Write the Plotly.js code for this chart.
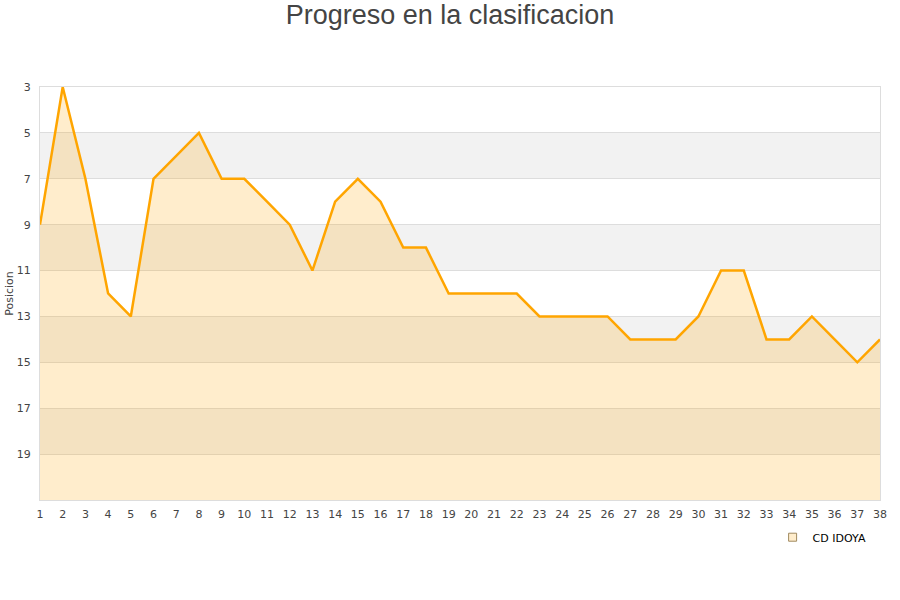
<!DOCTYPE html>
<html>
<head>
<meta charset="utf-8">
<script src="https://cdn.plot.ly/plotly-3.0.1.min.js"></script>
<style>body{margin:0;padding:0;background:#fff}#chart{width:900px;height:600px}</style>
</head>
<body>
<div id="chart"></div>
<script>
const jornadas = [1,2,3,4,5,6,7,8,9,10,11,12,13,14,15,16,17,18,19,20,21,22,23,24,25,26,27,28,29,30,31,32,33,34,35,36,37,38];
const posiciones = [9,3,7,12,13,7,6,5,7,7,8,9,11,8,7,8,10,10,12,12,12,12,13,13,13,13,14,14,14,13,11,11,14,14,13,14,15,14];
const teamName = "CD IDOYA";
const yTicks = [3,5,7,9,11,13,15,17,19];
const yMin = 3, yMax = 21;

const bandShapes = [];
for (let v = yMin; v < yMax; v += 2) {
  const idx = (v - yMin) / 2;
  bandShapes.push({
    type: 'rect', xref: 'paper', yref: 'y', x0: 0, x1: 1, y0: v, y1: v + 2,
    fillcolor: idx % 2 === 1 ? '#F2F2F2' : '#FFFFFF', line: {width: 0}, layer: 'below'
  });
}

const baseline = jornadas.map(() => yMax);

const traces = [
  {x: jornadas, y: baseline, mode: 'lines', line: {width: 0}, hoverinfo: 'skip', showlegend: false},
  {x: jornadas, y: posiciones, mode: 'lines', fill: 'tonexty', fillcolor: 'rgba(255,165,0,0.2)',
   line: {color: '#FFA500', width: 2.5}, name: teamName, showlegend: false},
  {x: [null], y: [null], mode: 'markers', name: teamName,
   marker: {symbol: 'square', size: 8, color: '#FFEDCC', line: {color: '#A08A60', width: 1}}}
];

const layout = {
  width: 900, height: 600,
  margin: {l: 40, r: 20, t: 87, b: 100},
  paper_bgcolor: '#FFFFFF', plot_bgcolor: 'rgba(0,0,0,0)',
  title: {text: 'Progreso en la clasificacion', x: 0.5, xanchor: 'center', y: 0.975, yanchor: 'middle',
          font: {family: 'Liberation Sans, Arial, sans-serif', size: 27, color: '#444'}},
  xaxis: {range: [1, 38], tickmode: 'array', tickvals: jornadas, ticktext: jornadas.map(String),
          showgrid: false, zeroline: false, showline: true, linecolor: '#DDDDDD', mirror: true,
          ticks: '', ticklabelstandoff: 4, tickfont: {family: 'DejaVu Sans, sans-serif', size: 11, color: '#444'}},
  yaxis: {range: [yMax, yMin], tickmode: 'array', tickvals: yTicks, ticktext: yTicks.map(String),
          showgrid: true, gridcolor: '#DDDDDD', gridwidth: 1, zeroline: false,
          showline: true, linecolor: '#DDDDDD', mirror: true, ticks: '', ticklabelstandoff: 6,
          tickfont: {family: 'DejaVu Sans, sans-serif', size: 11, color: '#444'},
          title: {text: 'Posicion', standoff: 0, font: {family: 'DejaVu Sans, sans-serif', size: 11, color: '#444'}}},
  shapes: bandShapes,
  showlegend: true,
  legend: {x: 0.99, xanchor: 'right', y: -0.055, yanchor: 'top', orientation: 'h', itemwidth: 30,
           font: {family: 'DejaVu Sans, sans-serif', size: 11, color: '#000'}, bgcolor: 'rgba(0,0,0,0)'}
};

Plotly.newPlot('chart', traces, layout, {displayModeBar: false, staticPlot: true});
</script>
</body>
</html>
